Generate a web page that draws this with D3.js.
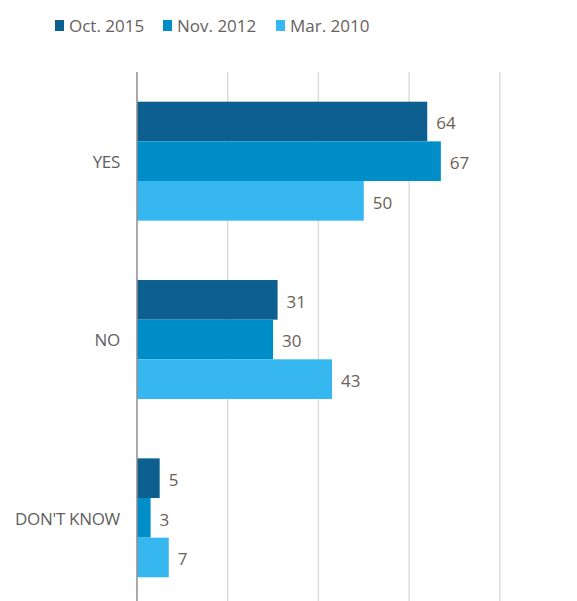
<!DOCTYPE html>
<html>
<head>
<meta charset="utf-8">
<script src="https://cdn.jsdelivr.net/npm/d3@7"></script>
<style>
  html, body { margin: 0; padding: 0; background: #fff; }
  svg { display: block; font-family: "Open Sans", "Noto Sans", sans-serif; }
</style>
</head>
<body>
<svg id="chart" width="577" height="601"></svg>
<script>
// Survey answers by wave
const categories = ["YES", "NO", "DON'T KNOW"];
const seriesNames = ["Oct. 2015", "Nov. 2012", "Mar. 2010"];
const oct2015 = [64, 31, 5];
const nov2012 = [67, 30, 3];
const mar2010 = [50, 43, 7];
const gridTicks = [0, 20, 40, 60, 80];
const seriesColors = ["#0c5f8f", "#008ec9", "#37b7ef"];

const seriesValues = [oct2015, nov2012, mar2010];

const svg = d3.select("#chart");

const x = d3.scaleLinear().domain([0, 100]).range([137, 590.5]);
const y = d3.scaleBand().domain(categories).range([101.7, 577.3]).paddingInner(0.333);
const ySub = d3.scaleBand().domain(seriesNames).range([0, y.bandwidth()]);

// Vertical gridlines
svg.append("g")
  .selectAll("line")
  .data(gridTicks.filter(d => d > 0))
  .join("line")
  .attr("x1", d => x(d)).attr("x2", d => x(d))
  .attr("y1", 72).attr("y2", 601)
  .attr("stroke", "#d9d9d9")
  .attr("stroke-width", 1.3);

// Bars
const groups = svg.append("g")
  .selectAll("g")
  .data(categories)
  .join("g")
  .attr("transform", d => `translate(0,${y(d)})`);

groups.selectAll("rect")
  .data((c, i) => seriesNames.map((s, j) => ({ s, j, v: seriesValues[j][i] })))
  .join("rect")
  .attr("x", x(0))
  .attr("y", d => ySub(d.s))
  .attr("width", d => x(d.v) - x(0))
  .attr("height", ySub.bandwidth())
  .attr("fill", d => seriesColors[d.j]);

// Value labels
groups.selectAll("text")
  .data((c, i) => seriesNames.map((s, j) => ({ s, j, v: seriesValues[j][i] })))
  .join("text")
  .attr("x", d => x(d.v) + 9)
  .attr("y", d => ySub(d.s) + ySub.bandwidth() / 2 + 2)
  .attr("dy", "0.35em")
  .attr("font-size", 17)
  .attr("fill", "#6b6056")
  .text(d => d.v);

// Vertical axis line
svg.append("line")
  .attr("x1", x(0)).attr("x2", x(0))
  .attr("y1", 72).attr("y2", 601)
  .attr("stroke", "#8c8c8c")
  .attr("stroke-width", 1.5);

// Category labels
svg.append("g")
  .selectAll("text")
  .data(categories)
  .join("text")
  .attr("x", 120)
  .attr("y", d => y(d) + y.bandwidth() / 2 + 1)
  .attr("dy", "0.35em")
  .attr("text-anchor", "end")
  .attr("font-size", 17)
  .attr("letter-spacing", -0.3)
  .attr("fill", "#5f5f5f")
  .text(d => d);

// Legend
const legendX = [55, 163, 276];
const legend = svg.append("g")
  .selectAll("g")
  .data(seriesNames)
  .join("g")
  .attr("transform", (d, i) => `translate(${legendX[i]},20)`);

legend.append("rect")
  .attr("width", 9).attr("height", 11)
  .attr("fill", (d, i) => seriesColors[i]);

legend.append("text")
  .attr("x", 14)
  .attr("y", 12)
  .attr("font-size", 17)
  .attr("fill", "#66615e")
  .text(d => d);
</script>
</body>
</html>
